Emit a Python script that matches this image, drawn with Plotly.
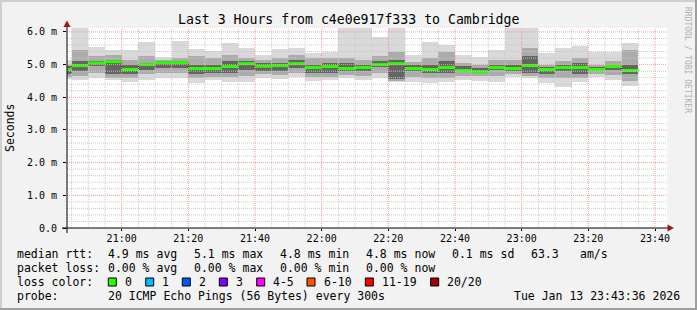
import plotly.graph_objects as go
import pandas as pd

# ---------------- data ----------------
DAY = "2026-01-13 "
interval_end = ["20:45", "20:50", "20:55", "21:00", "21:05", "21:10", "21:15",
                "21:20", "21:25", "21:30", "21:35", "21:40", "21:45", "21:50",
                "21:55", "22:00", "22:05", "22:10", "22:15", "22:20", "22:25",
                "22:30", "22:35", "22:40", "22:45", "22:50", "22:55", "23:00",
                "23:05", "23:10", "23:15", "23:20", "23:25", "23:30", "23:35"]

median_ms = [4.85, 4.97, 5.05, 5.09, 4.85, 5.00, 5.06, 5.06, 4.88, 4.88, 4.94, 5.03,
             4.95, 4.97, 5.03, 4.91, 4.94, 4.88, 4.91, 5.00, 5.03, 4.88, 4.85, 4.91,
             4.82, 4.78, 4.91, 4.88, 4.97, 4.85, 4.91, 4.91, 4.85, 4.94, 4.82]
ping_max = [5.15, 6.40, 5.55, 5.45, 5.45, 5.70, 5.24, 5.73, 5.47, 5.43, 5.67, 5.52,
            5.30, 5.48, 5.52, 5.35, 5.40, 6.40, 6.40, 5.86, 6.40, 5.30, 5.70, 5.60,
            5.30, 5.24, 5.45, 6.40, 6.40, 5.37, 5.50, 5.58, 5.40, 5.40, 5.67]
ping_hi = [5.00, 5.45, 5.25, 5.30, 5.15, 5.25, 5.15, 5.20, 5.25, 5.20, 5.30, 5.20,
           5.15, 5.20, 5.30, 5.20, 5.20, 5.20, 5.15, 5.25, 5.40, 5.08, 5.20, 5.40,
           5.05, 5.00, 5.15, 5.15, 5.50, 5.00, 5.10, 5.20, 4.98, 5.10, 5.45]
core_hi = [4.95, 5.10, 5.12, 5.15, 5.00, 5.05, 5.10, 5.10, 5.00, 5.00, 5.10, 5.10,
           5.05, 5.05, 5.15, 5.00, 5.05, 5.05, 5.00, 5.12, 5.15, 4.98, 5.00, 5.10,
           4.95, 4.90, 5.00, 5.00, 5.25, 4.92, 5.00, 5.05, 4.92, 5.00, 5.00]
core_lo = [4.70, 4.80, 4.95, 4.70, 4.70, 4.85, 4.90, 4.90, 4.70, 4.75, 4.75, 4.85,
           4.80, 4.80, 4.90, 4.75, 4.75, 4.80, 4.80, 4.92, 4.55, 4.80, 4.75, 4.75,
           4.78, 4.75, 4.82, 4.80, 4.75, 4.70, 4.80, 4.70, 4.80, 4.82, 4.70]
ping_lo = [4.62, 4.65, 4.75, 4.60, 4.60, 4.70, 4.75, 4.75, 4.60, 4.63, 4.62, 4.65,
           4.70, 4.68, 4.75, 4.62, 4.63, 4.68, 4.65, 4.75, 4.50, 4.62, 4.60, 4.60,
           4.65, 4.65, 4.65, 4.70, 4.65, 4.58, 4.60, 4.60, 4.70, 4.68, 4.50]
ping_min = [4.55, 4.53, 4.58, 4.53, 4.48, 4.53, 4.60, 4.58, 4.45, 4.53, 4.48, 4.46,
            4.58, 4.56, 4.61, 4.50, 4.53, 4.58, 4.53, 4.60, 4.48, 4.46, 4.43, 4.48,
            4.53, 4.51, 4.48, 4.61, 4.58, 4.43, 4.33, 4.48, 4.61, 4.53, 4.35]

y_ticks = [0, 1, 2, 3, 4, 5, 6]
y_tick_text = ["0.0", "1.0 m", "2.0 m", "3.0 m", "4.0 m", "5.0 m", "6.0 m"]

loss_labels = ["0", "1", "2", "3", "4-5", "6-10", "11-19", "20/20"]
loss_colors = ["#26ff00", "#00b8ff", "#0059ff", "#7e00ff", "#ff00ff", "#ff5500", "#ff0000", "#a10000"]

title_text = "Last 3 Hours from c4e0e917f333 to Cambridge"
rtt_stats = ["4.9 ms avg", "5.1 ms max", "4.8 ms min", "4.8 ms now", "0.1 ms sd", "63.3", "am/s"]
loss_stats = ["0.00 % avg", "0.00 % max", "0.00 % min", "0.00 % now"]
probe_text = "20 ICMP Echo Pings (56 Bytes) every 300s"
stamp_text = "Tue Jan 13 23:43:36 2026"

# ---------------- layout geometry (pixels) ----------------
W, H = 697, 310
PL, PR, PT, PB = 67, 667, 28, 228
FONT = "DejaVu Sans Mono"


def px(x):
    return (x - PL) / (PR - PL)


def py(y):
    return (PB - y) / (PB - PT)


ends = pd.to_datetime([DAY + t for t in interval_end])
starts = ends - pd.Timedelta(minutes=5)
STEP_MS = 5 * 60 * 1000

fig = go.Figure()


def smoke(lo, hi, color):
    return go.Bar(x=ends, y=[h - l for h, l in zip(hi, lo)], base=lo,
                  width=STEP_MS, offset=-STEP_MS,
                  marker=dict(color=color, line=dict(width=0)),
                  hoverinfo="skip", showlegend=False)


fig.add_trace(smoke(ping_min, ping_max, "#d9d9d9"))
fig.add_trace(smoke(ping_lo, ping_hi, "#ababab"))
fig.add_trace(smoke(core_lo, core_hi, "#646464"))

# thin dark median step line
fig.add_trace(go.Scatter(x=list(starts) + [ends[-1]], y=median_ms + [median_ms[-1]],
                         mode="lines", line=dict(color="#202020", width=1, shape="hv"),
                         hoverinfo="skip", showlegend=False))
# green median band per interval
gx, gy = [], []
for s, e, m in zip(starts, ends, median_ms):
    gx += [s, e, None]
    gy += [m, m, None]
fig.add_trace(go.Scatter(x=gx, y=gy, mode="lines",
                         line=dict(color=loss_colors[0], width=3),
                         hoverinfo="skip", showlegend=False))

shapes = []
# grid (drawn above data like rrdtool)
t = pd.Timestamp(DAY + "20:45")
while t <= pd.Timestamp(DAY + "23:40"):
    major = t.minute % 20 == 0
    shapes.append(dict(type="line", xref="x", yref="paper", x0=t, x1=t, y0=0, y1=1,
                       layer="above",
                       line=dict(color="#f59a9a" if major else "#c8c8c8", width=1, dash="1px,1px")))
    t += pd.Timedelta(minutes=5)
for k in range(1, 31):
    v = k * 0.2
    major = k % 5 == 0
    shapes.append(dict(type="line", xref="paper", yref="y", x0=0, x1=1, y0=v, y1=v,
                       layer="above",
                       line=dict(color="#f59a9a" if major else "#c8c8c8", width=1, dash="1px,1px")))

# axis lines
shapes.append(dict(type="line", xref="paper", yref="paper", x0=px(62), x1=px(668), y0=py(228), y1=py(228),
                   layer="above", line=dict(color="#000000", width=1)))
shapes.append(dict(type="line", xref="paper", yref="paper", x0=px(67), x1=px(67), y0=py(233), y1=py(24),
                   layer="above", line=dict(color="#000000", width=1)))
# arrows
ARROW = "#a01414"
shapes.append(dict(type="path", xref="paper", yref="paper", layer="above",
                   path=f"M {px(67)},{py(20.5)} L {px(63.5)},{py(27)} L {px(70.5)},{py(27)} Z",
                   fillcolor=ARROW, line=dict(width=0)))
shapes.append(dict(type="path", xref="paper", yref="paper", layer="above",
                   path=f"M {px(674)},{py(228)} L {px(667.5)},{py(224.5)} L {px(667.5)},{py(231.5)} Z",
                   fillcolor=ARROW, line=dict(width=0)))

# frame (rrdtool shade)
shapes.append(dict(type="rect", xref="paper", yref="paper", x0=px(0), x1=px(W), y0=py(0), y1=py(2),
                   fillcolor="#cfcfcf", line=dict(width=0), layer="below"))
shapes.append(dict(type="rect", xref="paper", yref="paper", x0=px(0), x1=px(2), y0=py(0), y1=py(H),
                   fillcolor="#cfcfcf", line=dict(width=0), layer="below"))
shapes.append(dict(type="rect", xref="paper", yref="paper", x0=px(0), x1=px(W), y0=py(H - 2), y1=py(H),
                   fillcolor="#9e9e9e", line=dict(width=0), layer="below"))
shapes.append(dict(type="rect", xref="paper", yref="paper", x0=px(W - 2), x1=px(W), y0=py(0), y1=py(H),
                   fillcolor="#9e9e9e", line=dict(width=0), layer="below"))

annotations = []


def txt(x, y, s, size=11.5, anchor="left", color="#000000", angle=0):
    annotations.append(dict(x=px(x), y=py(y), xref="paper", yref="paper", text=s,
                            showarrow=False, xanchor=anchor, yanchor="middle",
                            textangle=angle, borderpad=0,
                            font=dict(family=FONT, size=size, color=color)))


txt(348, 19, title_text, size=13.2, anchor="center")
txt(10, 128, "Seconds", size=11.5, anchor="center", angle=-90)
txt(688, 60, "RRDTOOL / TOBI OETIKER", size=8, anchor="center", color="#b0b0b0", angle=90)

stat_x = [107, 193, 279, 365, 451, 530, 579]
txt(16, 254, "median rtt:")
for x, s in zip(stat_x, rtt_stats):
    txt(x, 254, s)
txt(16, 268, "packet loss:")
for x, s in zip(stat_x, loss_stats):
    txt(x, 268, s)
txt(16, 282, "loss color:")
box_x = [108.3, 145.7, 182.3, 219.3, 256.7, 307, 365.3, 430.7]
for bx, lab, col in zip(box_x, loss_labels, loss_colors):
    shapes.append(dict(type="rect", xref="paper", yref="paper",
                       x0=px(bx), x1=px(bx + 8), y0=py(278), y1=py(286),
                       fillcolor=col, line=dict(color="#000000", width=1)))
    txt(bx + 15.5, 282, lab)
txt(16, 296, "probe:")
txt(107, 296, probe_text)
txt(513, 296, stamp_text)

fig.update_layout(
    width=W, height=H,
    margin=dict(l=PL, r=W - PR, t=PT, b=H - PB, pad=0),
    paper_bgcolor="#f2f2f2", plot_bgcolor="#ffffff",
    barmode="overlay", bargap=0,
    showlegend=False,
    shapes=shapes, annotations=annotations,
    font=dict(family=FONT, size=10, color="#000000"),
    xaxis=dict(type="date",
               range=[DAY + "20:43:36", DAY + "23:43:36"],
               tick0=DAY + "21:00", dtick=20 * 60 * 1000, tickformat="%H:%M",
               showgrid=False, zeroline=False, showline=False,
               ticks="outside", ticklen=2, tickcolor="#000000",
               tickfont=dict(family=FONT, size=10, color="#000000"),
               ticklabelstandoff=-1, fixedrange=True),
    yaxis=dict(range=[0, 6.12], tickvals=y_ticks, ticktext=y_tick_text,
               showgrid=False, zeroline=False, showline=False,
               ticks="outside", ticklen=3, tickcolor="#000000",
               tickfont=dict(family=FONT, size=10, color="#000000"),
               ticklabelstandoff=4, fixedrange=True),
)

fig.write_html("out.html")
